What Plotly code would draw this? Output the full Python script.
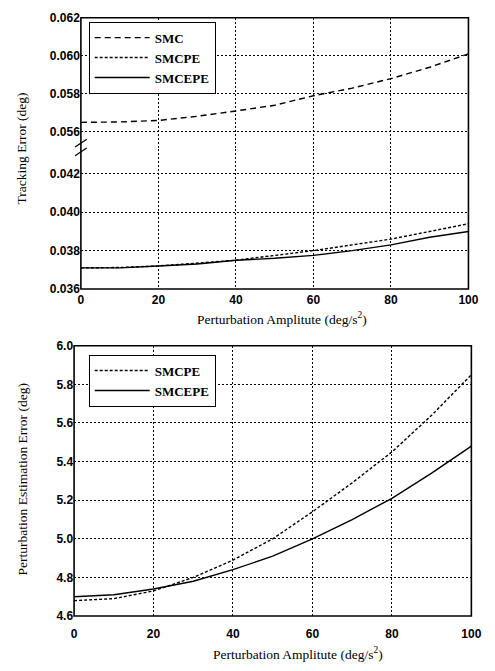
import plotly.graph_objects as go

amp = [0, 10, 20, 30, 40, 50, 60, 70, 80, 90, 100]
smc_track = [0.0565, 0.05652, 0.0566, 0.05682, 0.0571, 0.0574, 0.0579, 0.0583, 0.0588, 0.0594, 0.0601]
smcpe_track = [0.0371, 0.03712, 0.0372, 0.03735, 0.0375, 0.03775, 0.0380, 0.0383, 0.0386, 0.0390, 0.0394]
smcepe_track = [0.0371, 0.0371, 0.0372, 0.0373, 0.0375, 0.0376, 0.03775, 0.0380, 0.0383, 0.0387, 0.0390]
smcpe_est = [4.68, 4.69, 4.73, 4.80, 4.89, 5.00, 5.14, 5.29, 5.45, 5.64, 5.85]
smcepe_est = [4.70, 4.71, 4.74, 4.78, 4.84, 4.91, 5.00, 5.10, 5.21, 5.34, 5.48]

upper_ticks = [0.056, 0.058, 0.060, 0.062]
lower_ticks = [0.036, 0.038, 0.040, 0.042]
x_ticks = [0, 20, 40, 60, 80, 100]
est_ticks = [4.6, 4.8, 5.0, 5.2, 5.4, 5.6, 5.8, 6.0]

W, H = 495, 671
def px(x): return x / W
def py(y): return 1 - y / H

top_x = [px(80), px(478)]
bot_x = [px(73), px(481)]
up_dom = [py(145), py(11)]
lo_dom = [py(288), py(145)]
bot_dom = [py(622), py(346)]

tickfont = dict(family="Liberation Sans", size=12, color="black", weight="bold")
serif = "Liberation Serif"
lw = 1.4
DASH = "6px,4px"
DOT = "3px,2px"

fig = go.Figure()
fig.add_trace(go.Scatter(x=amp, y=smc_track, name="SMC", xaxis="x", yaxis="y", mode="lines",
                         line=dict(color="black", dash=DASH, width=lw), legend="legend"))
fig.add_trace(go.Scatter(x=amp, y=smcpe_track, name="SMCPE", xaxis="x", yaxis="y2", mode="lines",
                         line=dict(color="black", dash=DOT, width=lw), legend="legend"))
fig.add_trace(go.Scatter(x=amp, y=smcepe_track, name="SMCEPE", xaxis="x", yaxis="y2", mode="lines",
                         line=dict(color="black", width=lw), legend="legend"))
fig.add_trace(go.Scatter(x=amp, y=smcpe_est, name="SMCPE", xaxis="x3", yaxis="y3", mode="lines",
                         line=dict(color="black", dash=DOT, width=lw), legend="legend2"))
fig.add_trace(go.Scatter(x=amp, y=smcepe_est, name="SMCEPE", xaxis="x3", yaxis="y3", mode="lines",
                         line=dict(color="black", width=lw), legend="legend2"))

grid = dict(showgrid=True, gridcolor="black", griddash="2px,2px", gridwidth=1, zeroline=False,
            showline=False, ticks="", tickfont=tickfont)

legfont = dict(family=serif, size=13, color="black", weight="bold")

fig.update_layout(
    width=W, height=H, margin=dict(l=0, r=0, t=0, b=0),
    paper_bgcolor="white", plot_bgcolor="white",
    xaxis=dict(domain=top_x, anchor="y2", range=[0, 100], tickvals=x_ticks,
               ticklabelstandoff=2, **grid),
    yaxis=dict(domain=up_dom, anchor="x", range=[0.0551, 0.062], tickvals=upper_ticks,
               ticktext=[f"{v:.3f}" for v in upper_ticks], **grid),
    yaxis2=dict(domain=lo_dom, anchor="x", range=[0.036, 0.0433], tickvals=lower_ticks,
                ticktext=[f"{v:.3f}" for v in lower_ticks], **grid),
    xaxis3=dict(domain=bot_x, anchor="y3", range=[0, 100], tickvals=x_ticks,
                ticklabelstandoff=9, **grid),
    yaxis3=dict(domain=bot_dom, anchor="x3", range=[4.6, 6.0], tickvals=est_ticks,
                ticktext=[f"{v:.1f}" for v in est_ticks], **grid),
    legend=dict(x=px(88), y=py(15), xanchor="left", yanchor="top", bgcolor="white",
                bordercolor="black", borderwidth=1, font=legfont,
                itemwidth=55, tracegroupgap=0),
    legend2=dict(x=px(88), y=py(355), xanchor="left", yanchor="top", bgcolor="white",
                 bordercolor="black", borderwidth=1, font=legfont,
                 itemwidth=55, tracegroupgap=0),
    showlegend=True,
)

# frames
fig.add_shape(type="rect", xref="paper", yref="paper", x0=top_x[0], x1=top_x[1],
              y0=lo_dom[0], y1=up_dom[1], line=dict(color="black", width=1.6), layer="above")
fig.add_shape(type="rect", xref="paper", yref="paper", x0=bot_x[0], x1=bot_x[1],
              y0=bot_dom[0], y1=bot_dom[1], line=dict(color="black", width=1.6), layer="above")
# axis break marks
for yb in (139, 148):
    fig.add_shape(type="line", xref="paper", yref="paper",
                  x0=px(74), x1=px(86), y0=py(yb + 4), y1=py(yb - 4),
                  line=dict(color="black", width=1.3))

tfont = dict(family=serif, size=13.5, color="black")
fig.add_annotation(text="Tracking Error (deg)", x=px(19), y=py(145), xref="paper", yref="paper",
                   xanchor="center", yanchor="middle",
                   textangle=-90, showarrow=False, font=tfont)
fig.add_annotation(text="Perturbation Estimation Error (deg)", x=px(20), y=py(482), xref="paper",
                   yref="paper", xanchor="center", yanchor="middle",
                   textangle=-90, showarrow=False, font=tfont)
fig.add_annotation(text="Perturbation Amplitute (deg/s<sup>2</sup>)", x=px(287), y=py(318),
                   xref="paper", yref="paper", xanchor="center", yanchor="middle",
                   showarrow=False, font=tfont)
fig.add_annotation(text="Perturbation Amplitute (deg/s<sup>2</sup>)", x=px(303), y=py(660),
                   xref="paper", yref="paper", xanchor="center", yanchor="middle",
                   showarrow=False, font=tfont)

fig.write_html("out.html")
